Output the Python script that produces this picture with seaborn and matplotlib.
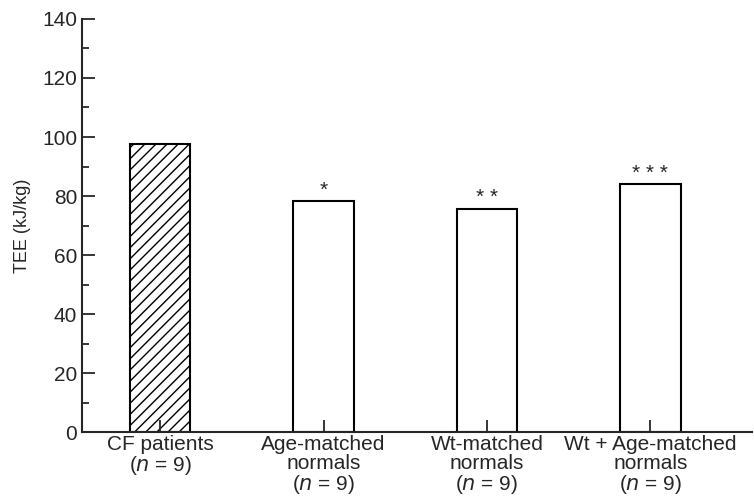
import matplotlib
matplotlib.use("Agg")
import matplotlib.pyplot as plt
import seaborn as sns
import pandas as pd
from matplotlib.ticker import MultipleLocator

# Values
groups = ["CF patients\n($\\mathit{n}$ = 9)",
          "Age-matched\nnormals\n($\\mathit{n}$ = 9)",
          "Wt-matched\nnormals\n($\\mathit{n}$ = 9)",
          "Wt + Age-matched\nnormals\n($\\mathit{n}$ = 9)"]
tee = [97.7, 78.3, 75.7, 84.0]
stars = ["", "*", "* *", "* * *"]

df = pd.DataFrame({"group": groups, "TEE": tee})

sns.set_style("ticks")
plt.rcParams["font.family"] = ["Liberation Sans", "DejaVu Sans"]
plt.rcParams["hatch.linewidth"] = 1.0

fig = plt.figure(figsize=(7.54, 4.99), dpi=100)
ax = fig.add_axes([0.109, 0.134, 0.888, 0.828])

sns.barplot(data=df, x="group", y="TEE", color="white", edgecolor="black",
            linewidth=1.5, width=0.37, ax=ax)
ax.patches[0].set_hatch("///")

# significance marks above the normal groups
for i, (v, s) in enumerate(zip(tee, stars)):
    if s:
        ax.text(i, v + 0.5, s, ha="center", va="bottom", fontsize=15)

ax.set_axisbelow(False)
ax.set_ylim(0, 140)
ax.set_xlim(-0.477, 3.62)
ax.yaxis.set_major_locator(MultipleLocator(20))
ax.yaxis.set_minor_locator(MultipleLocator(10))
ax.tick_params(axis="y", which="major", direction="in", length=9, width=1.3, labelsize=15)
ax.tick_params(axis="y", which="minor", direction="in", length=5, width=1.3)
ax.tick_params(axis="x", direction="in", length=9, width=1.3, labelsize=15, pad=2)
for lab in ax.get_xticklabels():
    lab.set_linespacing(1.0)
ax.set_xlabel("")
ax.set_ylabel("TEE (kJ/kg)", fontsize=13, labelpad=8)
for sp in ["top", "right"]:
    ax.spines[sp].set_visible(False)
for sp in ["left", "bottom"]:
    ax.spines[sp].set_linewidth(1.5)

fig.savefig("out.png", dpi=100)
plt.close(fig)
